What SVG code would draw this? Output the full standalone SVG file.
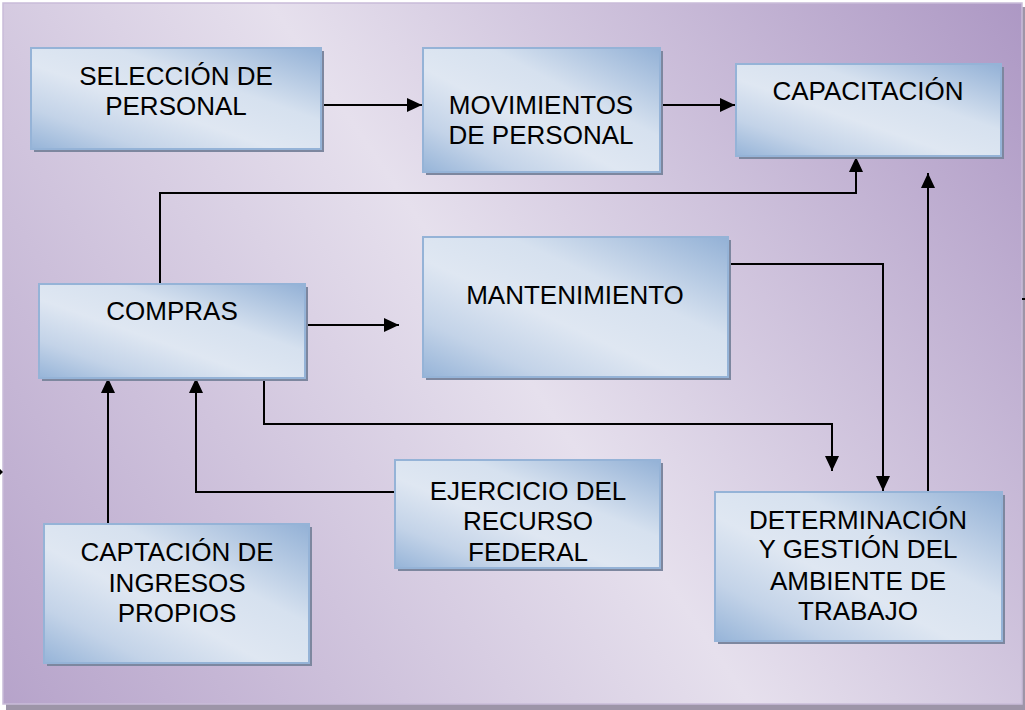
<svg xmlns="http://www.w3.org/2000/svg" width="1025" height="710" viewBox="0 0 1025 710">
<defs>
<linearGradient id="bg" gradientUnits="userSpaceOnUse" x1="0" y1="704" x2="1022" y2="3">
<stop offset="0" stop-color="#b6a3ca"/>
<stop offset="0.5" stop-color="#e6e0ed"/>
<stop offset="1" stop-color="#ad98c4"/>
</linearGradient>
<linearGradient id="box" x1="1" y1="0" x2="0" y2="1">
<stop offset="0" stop-color="#93b1d6"/>
<stop offset="0.36" stop-color="#d6e1ef"/>
<stop offset="0.58" stop-color="#dfe7f2"/>
<stop offset="0.8" stop-color="#c3d3e8"/>
<stop offset="1" stop-color="#96b4d8"/>
</linearGradient>
<marker id="arr" markerUnits="userSpaceOnUse" markerWidth="16" markerHeight="15" refX="15" refY="7" orient="auto">
<path d="M0,0 L15,7 L0,14 z" fill="#000"/>
</marker>
</defs>
<style>
.shadow{fill:#7d879f}
.b{fill:url(#box);stroke:#95b3d7;stroke-width:2}
.t{font-family:"Liberation Sans",Arial,sans-serif;font-size:26px;fill:#000;text-anchor:middle}
.c{fill:none;stroke:#000;stroke-width:2}
</style>
<rect x="6" y="7" width="1019" height="703" fill="#9d95a8"/>
<rect x="3" y="3" width="1019" height="701" fill="url(#bg)" stroke="#c9bcd9" stroke-width="1.5"/>

<g id="connectors">
<path class="c" d="M320,105 H422" marker-end="url(#arr)"/>
<path class="c" d="M660,105 H735" marker-end="url(#arr)"/>
<path class="c" d="M160,284 V193 H856 V157" marker-end="url(#arr)"/>
<path class="c" d="M928,492 V173" marker-end="url(#arr)"/>
<path class="c" d="M305,325 H399" marker-end="url(#arr)"/>
<path class="c" d="M728,264 H883 V491" marker-end="url(#arr)"/>
<path class="c" d="M264,378 V424 H832 V471" marker-end="url(#arr)"/>
<path class="c" d="M395,492 H196 V378" marker-end="url(#arr)"/>
<path class="c" d="M108,524 V378" marker-end="url(#arr)"/>
<path d="M0,469 L3,472 L0,475 z" fill="#000"/>
<path d="M1022,299 H1025" stroke="#000" stroke-width="2"/>
</g>

<g id="seleccion">
<rect class="shadow" x="34" y="51" width="290" height="101"/>
<rect class="b" x="31" y="48" width="290" height="101"/>
<text class="t" x="176" y="85">SELECCIÓN DE</text>
<text class="t" x="176" y="115">PERSONAL</text>
</g>

<g id="movimientos">
<rect class="shadow" x="426" y="51" width="237" height="124"/>
<rect class="b" x="423" y="48" width="237" height="124"/>
<text class="t" x="541" y="114">MOVIMIENTOS</text>
<text class="t" x="541" y="144">DE PERSONAL</text>
</g>

<g id="capacitacion">
<rect class="shadow" x="739" y="67" width="265" height="92"/>
<rect class="b" x="736" y="64" width="265" height="92"/>
<text class="t" x="868" y="100">CAPACITACIÓN</text>
</g>

<g id="compras">
<rect class="shadow" x="42" y="287" width="266" height="94"/>
<rect class="b" x="39" y="284" width="266" height="94"/>
<text class="t" x="172" y="320">COMPRAS</text>
</g>

<g id="mantenimiento">
<rect class="shadow" x="426" y="240" width="305" height="140"/>
<rect class="b" x="423" y="237" width="305" height="140"/>
<text class="t" x="575" y="304">MANTENIMIENTO</text>
</g>

<g id="ejercicio">
<rect class="shadow" x="398" y="463" width="265" height="108"/>
<rect class="b" x="395" y="460" width="265" height="108"/>
<text class="t" x="528" y="500">EJERCICIO DEL</text>
<text class="t" x="528" y="530">RECURSO</text>
<text class="t" x="528" y="561">FEDERAL</text>
</g>

<g id="determinacion">
<rect class="shadow" x="718" y="495" width="287" height="149"/>
<rect class="b" x="715" y="492" width="287" height="149"/>
<text class="t" x="858" y="529">DETERMINACIÓN</text>
<text class="t" x="858" y="558">Y GESTIÓN DEL</text>
<text class="t" x="858" y="590">AMBIENTE DE</text>
<text class="t" x="858" y="620">TRABAJO</text>
</g>

<g id="captacion">
<rect class="shadow" x="47" y="527" width="265" height="139"/>
<rect class="b" x="44" y="524" width="265" height="139"/>
<text class="t" x="177" y="561">CAPTACIÓN DE</text>
<text class="t" x="177" y="592">INGRESOS</text>
<text class="t" x="177" y="622">PROPIOS</text>
</g>
</svg>
